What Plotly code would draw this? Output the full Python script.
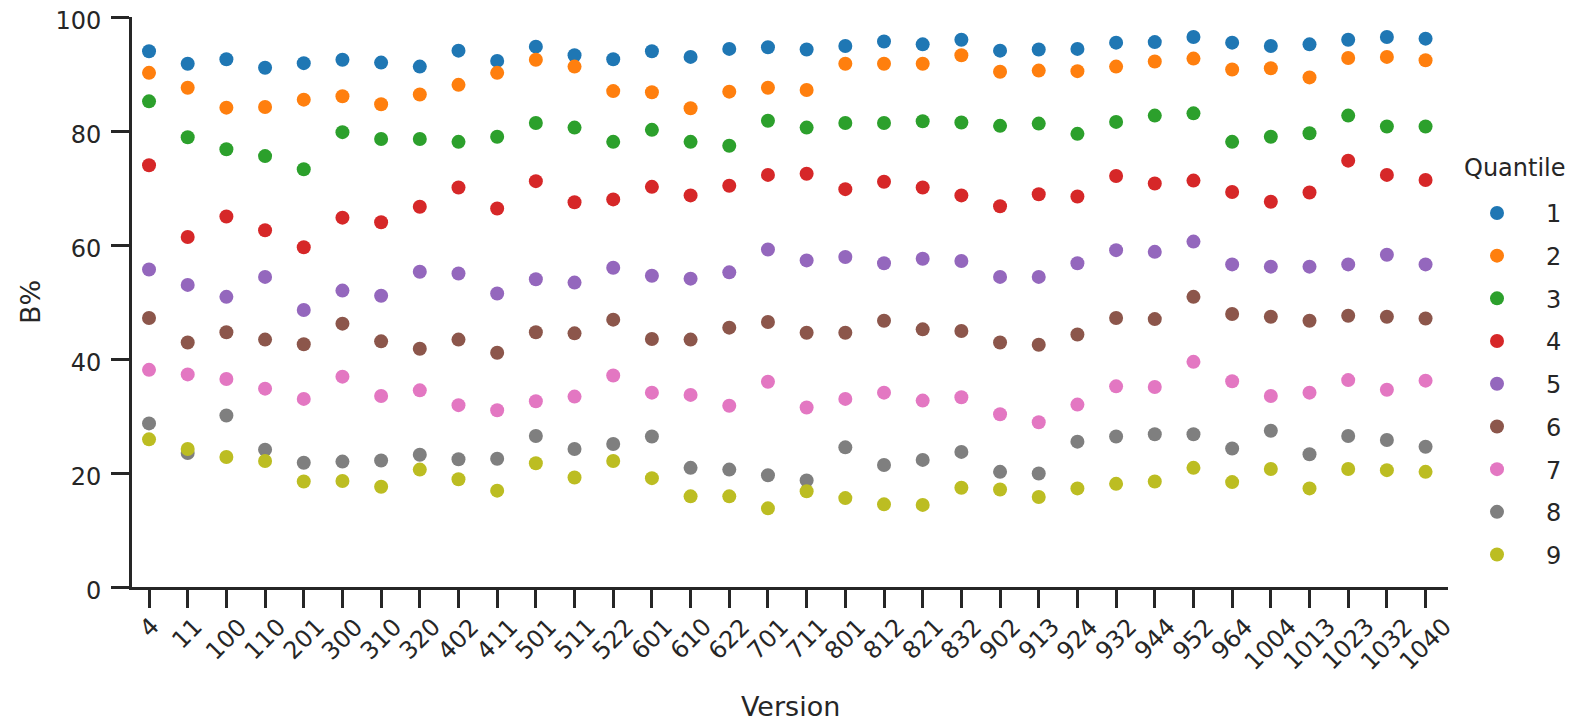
import plotly.graph_objects as go

versions = ["4", "11", "100", "110", "201", "300", "310", "320", "402", "411",
            "501", "511", "522", "601", "610", "622", "701", "711", "801", "812",
            "821", "832", "902", "913", "924", "932", "944", "952", "964", "1004",
            "1013", "1023", "1032", "1040"]

q1 = [94.0, 91.8, 92.6, 91.1, 91.9, 92.5, 92.0, 91.3, 94.1, 92.3, 94.8, 93.3, 92.6, 94.0, 93.0, 94.4, 94.7,
      94.3, 94.9, 95.7, 95.2, 96.0, 94.1, 94.3, 94.4, 95.5, 95.6, 96.5, 95.5, 94.9, 95.2, 96.0, 96.5, 96.2]
q2 = [90.2, 87.6, 84.1, 84.2, 85.5, 86.1, 84.7, 86.4, 88.1, 90.2, 92.5, 91.3, 87.0, 86.8, 84.0, 86.9, 87.6,
      87.2, 91.8, 91.8, 91.8, 93.3, 90.4, 90.6, 90.5, 91.3, 92.2, 92.7, 90.8, 91.0, 89.4, 92.8, 93.0, 92.4]
q3 = [85.2, 78.9, 76.8, 75.6, 73.3, 79.8, 78.6, 78.6, 78.1, 79.0, 81.4, 80.6, 78.1, 80.2, 78.1, 77.4, 81.8,
      80.6, 81.4, 81.4, 81.7, 81.5, 80.9, 81.3, 79.5, 81.6, 82.7, 83.1, 78.1, 79.0, 79.6, 82.7, 80.8, 80.8]
q4 = [74.0, 61.4, 65.0, 62.6, 59.6, 64.8, 64.0, 66.7, 70.1, 66.4, 71.2, 67.5, 68.0, 70.2, 68.7, 70.4, 72.3,
      72.5, 69.8, 71.1, 70.1, 68.7, 66.8, 68.9, 68.5, 72.1, 70.8, 71.3, 69.3, 67.6, 69.2, 74.8, 72.3, 71.4]
q5 = [55.7, 53.0, 50.9, 54.4, 48.6, 52.0, 51.1, 55.3, 55.0, 51.5, 54.0, 53.4, 56.0, 54.6, 54.1, 55.2, 59.2,
      57.3, 57.9, 56.8, 57.6, 57.2, 54.4, 54.4, 56.8, 59.1, 58.8, 60.6, 56.6, 56.2, 56.2, 56.6, 58.3, 56.6]
q6 = [47.2, 42.9, 44.7, 43.4, 42.6, 46.2, 43.1, 41.8, 43.4, 41.1, 44.7, 44.5, 46.9, 43.5, 43.4, 45.5, 46.5,
      44.6, 44.6, 46.7, 45.2, 44.9, 42.9, 42.5, 44.3, 47.2, 47.0, 50.9, 47.9, 47.4, 46.7, 47.6, 47.4, 47.1]
q7 = [38.1, 37.3, 36.5, 34.8, 33.0, 36.9, 33.5, 34.5, 31.9, 31.0, 32.6, 33.4, 37.1, 34.1, 33.7, 31.8, 36.0,
      31.5, 33.0, 34.1, 32.7, 33.3, 30.3, 28.9, 32.0, 35.2, 35.1, 39.5, 36.1, 33.5, 34.1, 36.3, 34.6, 36.2]
q8 = [28.7, 23.5, 30.1, 24.1, 21.8, 22.0, 22.2, 23.2, 22.4, 22.5, 26.5, 24.2, 25.1, 26.4, 20.9, 20.6, 19.6,
      18.7, 24.5, 21.4, 22.3, 23.7, 20.2, 19.9, 25.5, 26.4, 26.8, 26.8, 24.3, 27.4, 23.3, 26.5, 25.8, 24.6]
q9 = [25.9, 24.2, 22.8, 22.1, 18.5, 18.6, 17.6, 20.6, 18.9, 16.9, 21.7, 19.2, 22.1, 19.1, 15.9, 15.9, 13.8,
      16.8, 15.6, 14.5, 14.4, 17.4, 17.1, 15.8, 17.3, 18.1, 18.5, 20.9, 18.4, 20.7, 17.3, 20.7, 20.5, 20.2]

quantile_names = ["1", "2", "3", "4", "5", "6", "7", "8", "9"]
series = [q1, q2, q3, q4, q5, q6, q7, q8, q9]
colors = ["#1f77b4", "#ff7f0e", "#2ca02c", "#d62728", "#9467bd",
          "#8c564b", "#e377c2", "#7f7f7f", "#bcbd22"]
y_ticks = [0, 20, 40, 60, 80, 100]

FONT = "DejaVu Sans"
INK = "#262626"

fig = go.Figure()
for name, vals, col in zip(quantile_names, series, colors):
    fig.add_trace(go.Scatter(
        x=versions, y=vals, mode="markers", name=name, legendgroup=name,
        marker=dict(color=col, size=14, line=dict(width=0)),
    ))

annotations = []
# rotated category labels, centred under each tick (category index on the x axis)
for i, v in enumerate(versions):
    annotations.append(dict(
        x=i, xref="x", y=-0.04, yref="paper", text=v, showarrow=False,
        textangle=-45, xanchor="center", yanchor="top",
        font=dict(family=FONT, size=24, color=INK),
    ))
annotations.append(dict(
    x=0.5, xref="paper", y=-0.209, yref="paper", text="Version", showarrow=False,
    xanchor="center", yanchor="middle", font=dict(family=FONT, size=27, color=INK),
))
annotations.append(dict(
    x=-0.0775, xref="paper", y=0.5, yref="paper", text="B%", showarrow=False,
    textangle=-90, xanchor="center", yanchor="middle",
    font=dict(family=FONT, size=27, color=INK),
))
annotations.append(dict(
    x=1.051, xref="paper", y=0.735, yref="paper", text="Quantile", showarrow=False,
    xanchor="center", yanchor="middle", font=dict(family=FONT, size=24, color=INK),
))

fig.update_layout(
    width=1574, height=720,
    margin=dict(l=124, r=134, t=9, b=141, autoexpand=False),
    paper_bgcolor="white", plot_bgcolor="white",
    font=dict(family=FONT, size=24, color=INK),
    showlegend=True,
    legend=dict(
        x=1.0, xanchor="left", y=0.695, yanchor="top",
        font=dict(family=FONT, size=24, color=INK),
        itemwidth=88, tracegroupgap=8.5, bgcolor="rgba(0,0,0,0)",
        traceorder="grouped",
    ),
    annotations=annotations,
    xaxis=dict(
        type="category", categoryorder="array", categoryarray=versions,
        range=[-0.44, 33.58], showgrid=False, zeroline=False,
        showline=True, linecolor=INK, linewidth=2.7,
        ticks="outside", ticklen=18, tickwidth=2.5, tickcolor=INK,
        showticklabels=False,
    ),
    yaxis=dict(
        range=[0, 100], tickvals=y_ticks, showgrid=False, zeroline=False,
        showline=True, linecolor=INK, linewidth=2.7,
        ticks="outside", ticklen=18, tickwidth=2.5, tickcolor=INK,
        tickfont=dict(family=FONT, size=24, color=INK), ticklabelstandoff=5,
        ticklabeloverflow="allow", ticklabelshift=4,
    ),
)

fig.write_html("out.html")
